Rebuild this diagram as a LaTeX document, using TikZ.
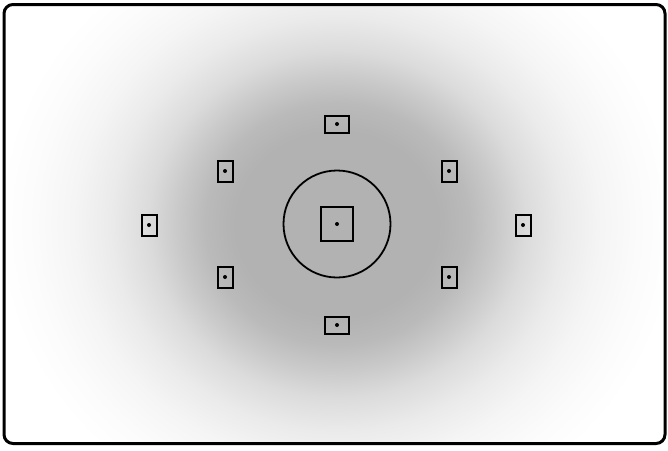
\documentclass[tikz,border=0pt]{standalone}
\pgfdeclareradialshading{viewfinder}{\pgfpoint{0bp}{0bp}}{%
  color(0bp)=(black!30); color(7.8bp)=(black!30); color(9.9bp)=(black!27);
  color(12bp)=(black!21); color(14.2bp)=(black!14); color(17bp)=(black!8);
  color(19.8bp)=(black!4); color(22.7bp)=(black!1.5); color(25.5bp)=(white);
  color(50bp)=(white)}
\tikzset{
  afpt/.style={draw, line width=2pt, inner sep=0pt,
    path picture={\fill (path picture bounding box.center) circle (2pt);}},
  afv/.style={afpt, minimum width=15pt, minimum height=21pt},
  afh/.style={afpt, minimum width=24pt, minimum height=17pt},
}
\begin{document}
\begin{tikzpicture}[x=1pt,y=-1pt]
\useasboundingbox (0,0) rectangle (668,450);
\begin{scope}
  \clip (5,5) rectangle (664,443);
  \shade[shading=viewfinder] (4,-81) rectangle (670,529);
\end{scope}
\draw[line width=3pt, rounded corners=9pt] (4,4.5) rectangle (665,443.5);
% centre spot
\node[draw, circle, line width=1.8pt, minimum size=107pt, inner sep=0pt] (spot) at (337,224) {};
\node[afpt, minimum width=32pt, minimum height=34pt] (af-c) at (337,224) {};
% outer points
\foreach \nm/\x/\y in {l/149/225, ul/225/171, ur/449/171, r/523/225, ll/225/277, lr/449/277} {
  \node[afv] (af-\nm) at (\x,\y) {};
}
\foreach \nm/\y in {t/124, b/325} {
  \node[afh] (af-\nm) at (337,\y) {};
}
\end{tikzpicture}
\end{document}
